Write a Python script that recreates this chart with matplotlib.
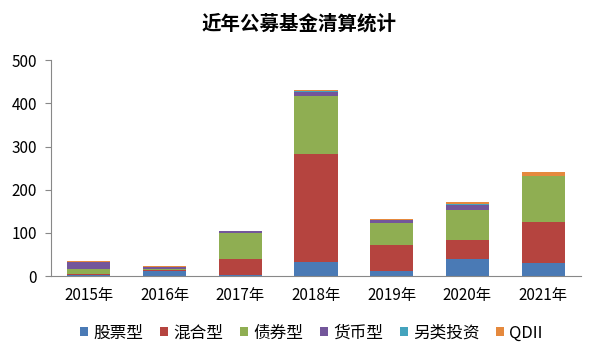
import matplotlib
matplotlib.use("Agg")
import matplotlib.pyplot as plt
import numpy as np

plt.rcParams['font.family'] = ['Noto Sans CJK SC', 'DejaVu Sans']

years = ['2015年', '2016年', '2017年', '2018年', '2019年', '2020年', '2021年']
series = ['股票型', '混合型', '债券型', '货币型', '另类投资', 'QDII']
stock = [2, 12, 2, 32, 12, 40, 31]
mixed = [3, 2, 37, 251, 59, 44, 94]
bond = [12, 3, 60, 133, 52, 68, 107]
money = [15, 5, 6, 10, 6, 12, 0]
alt = [0, 0, 0, 2, 0, 2, 0]
qdii = [3, 2, 0, 3, 3, 5, 9]
colors = ['#4a7ab5', '#b5443f', '#8fae52', '#73569a', '#44a3bd', '#e5893d']

data = [stock, mixed, bond, money, alt, qdii]

fig = plt.figure(figsize=(5.99, 3.6), dpi=100)
ax = fig.add_axes([0.085, 0.233, 0.885, 0.6])

x = np.arange(len(years))
bottom = np.zeros(len(years))
for name, vals, c in zip(series, data, colors):
    ax.bar(x, vals, 0.57, bottom=bottom, color=c, label=name)
    bottom += np.array(vals)

ax.set_xlim(-0.5, 6.5)
ax.set_ylim(0, 500)
ax.set_yticks(range(0, 501, 100))
ax.set_xticks(x)
ax.set_xticklabels(years, fontsize=11)
ax.tick_params(axis='y', labelsize=11, length=4, color='#888888', pad=6)
ax.tick_params(axis='x', length=0, pad=8)
for s in ['top', 'right']:
    ax.spines[s].set_visible(False)
for s in ['left', 'bottom']:
    ax.spines[s].set_color('#888888')

fig.text(0.5, 0.935, '近年公募基金清算统计', ha='center', va='center',
         fontsize=14, fontweight='bold')

fig.legend(loc='center', bbox_to_anchor=(0.52, 0.075), ncol=6, frameon=False,
           fontsize=12, handlelength=0.5, handleheight=0.5, handletextpad=0.3,
           columnspacing=1.0)

fig.savefig('out.png', dpi=100)
